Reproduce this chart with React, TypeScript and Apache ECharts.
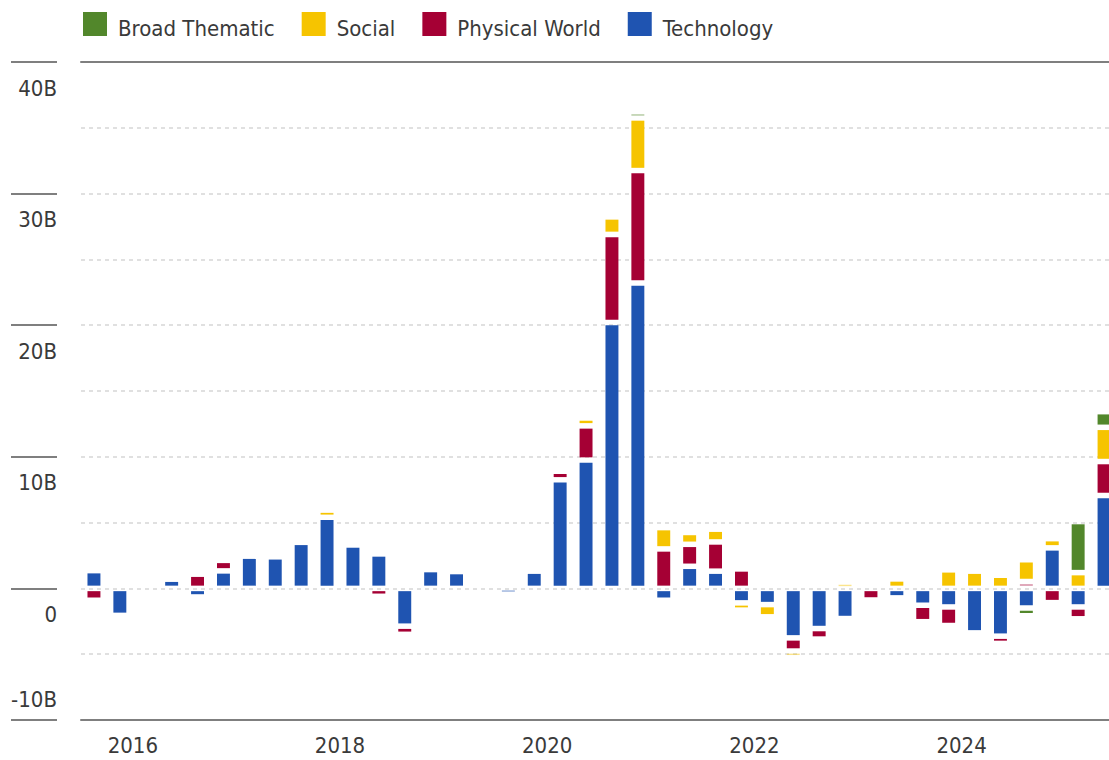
import React, { useEffect, useRef } from "react";
import * as echarts from "echarts";

// Quarterly flows (USD billions), 2015 Q3 .. 2025 Q2
const quarters = [
  "2015 Q3", "2015 Q4",
  "2016 Q1", "2016 Q2", "2016 Q3", "2016 Q4",
  "2017 Q1", "2017 Q2", "2017 Q3", "2017 Q4",
  "2018 Q1", "2018 Q2", "2018 Q3", "2018 Q4",
  "2019 Q1", "2019 Q2", "2019 Q3", "2019 Q4",
  "2020 Q1", "2020 Q2", "2020 Q3", "2020 Q4",
  "2021 Q1", "2021 Q2", "2021 Q3", "2021 Q4",
  "2022 Q1", "2022 Q2", "2022 Q3", "2022 Q4",
  "2023 Q1", "2023 Q2", "2023 Q3", "2023 Q4",
  "2024 Q1", "2024 Q2", "2024 Q3", "2024 Q4",
  "2025 Q1", "2025 Q2",
];

const technology = [
  1.35, -2.05,
  0, 0.7, -0.65, 1.33,
  2.45, 2.4, 3.5, 5.4,
  3.3, 2.62, -2.87, 1.43,
  1.28, 0, -0.4, 1.31,
  8.25, 9.75, 20.2, 23.2,
  -0.9, 1.68, 1.31, -1.1,
  -1.23, -3.76, -3.05, -2.29,
  0, -0.72, -1.28, -1.41,
  -3.38, -3.63, -1.48, 3.08,
  -1.41, 7.06,
];

const physicalWorld = [
  -0.9, 0,
  0, 0, 1.08, 0.8,
  0, 0, 0, 0,
  0, -0.6, -0.62, 0,
  0, 0, 0, 0,
  0.65, 2.6, 6.7, 8.55,
  3.0, 1.67, 2.22, 1.48,
  0, -1.0, -0.8, 0,
  -0.88, 0, -1.25, -1.41,
  0, -0.55, 0.52, -1.08,
  -0.9, 2.58,
];

const social = [
  0, 0,
  0, 0, 0, 0,
  0, 0, 0, 0.55,
  0, 0, 0, 0,
  0, 0, 0, 0,
  0, 0.6, 1.33, 4.0,
  1.62, 0.9, 0.97, -0.55,
  -0.93, -0.5, 0, 0.45,
  0, 0.72, 0, 1.41,
  1.31, 1.0, 1.66, 0.7,
  1.2, 2.6,
];

const broadThematic = [
  0, 0,
  0, 0, 0, 0,
  0, 0, 0, 0,
  0, 0, 0, 0,
  0, 0, 0, 0,
  0, 0, 0, 0.45,
  0, 0, 0, 0,
  0, 0, 0, 0,
  0, 0, 0, 0,
  0, 0, -0.6, 0,
  3.88, 1.19,
];

const yearTicks = [2016, 2018, 2020, 2022, 2024];
const legendNames = ["Broad Thematic", "Social", "Physical World", "Technology"];

const COLORS: Record<string, string> = {
  Technology: "#1f54b1",
  "Physical World": "#a50034",
  Social: "#f6c400",
  "Broad Thematic": "#52872b",
};

const FONT = "'DejaVu Sans Condensed', 'Liberation Sans Narrow', sans-serif";
const TEXT = "#3a3a3a";
const LINE = "#7f7f7f";
const GRID_LINE = "#d6d6d6";

// x position = middle of each quarter, in fractional years
const xPos = quarters.map((q) => {
  const [y, qq] = q.split(" Q");
  return Number(y) + (Number(qq) - 0.5) / 4;
});

const stackOrder: [string, number[]][] = [
  ["Technology", technology],
  ["Physical World", physicalWorld],
  ["Social", social],
  ["Broad Thematic", broadThematic],
];

function buildStacks() {
  const pos = quarters.map(() => 0);
  const neg = quarters.map(() => 0);
  return stackOrder.map(([name, arr]) => {
    const data = arr.map((v, i) => {
      if (v >= 0) {
        const s = pos[i];
        pos[i] += v;
        return [xPos[i], s, pos[i], v];
      }
      const s = neg[i];
      neg[i] += v;
      return [xPos[i], s, neg[i], v];
    });
    return { name, data };
  });
}

export default function App() {
  const ref = useRef<HTMLDivElement>(null);

  useEffect(() => {
    if (!ref.current) return;
    const chart = echarts.init(ref.current, undefined, { renderer: "svg" });
    const INSET = 2.75;

    const stacks = buildStacks();
    const series = stacks.map(({ name, data }) => {
      const color = COLORS[name];
      return {
        type: "custom",
        name,
        color,
        itemStyle: { color },
        encode: { x: 0, y: [1, 2] },
        data,
        renderItem: (params: any, api: any) => {
          const v = api.value(3);
          if (!v) return null;
          const x = api.value(0);
          const a = api.coord([x, api.value(1)]);
          const b = api.coord([x, api.value(2)]);
          const w = api.size([0.25, 0])[0] * 0.5;
          let top = Math.min(a[1], b[1]) + INSET;
          let bot = Math.max(a[1], b[1]) - INSET;
          let opacity = 1;
          if (bot - top < 1.4) {
            const m = (top + bot) / 2;
            top = m - 0.7;
            bot = m + 0.7;
            opacity = 0.45;
          }
          return {
            type: "rect",
            shape: { x: a[0] - w / 2, y: top, width: w, height: bot - top },
            style: { fill: color, opacity },
          };
        },
      };
    });

    const xMin = 2015.5;
    const xMax = 2015.5 + (1109 - 81) / 103.6;

    chart.setOption({
      animation: false,
      textStyle: { fontFamily: FONT },
      legend: {
        top: 12,
        left: 83,
        padding: 0,
        itemWidth: 24,
        itemHeight: 24,
        itemGap: 27,
        selectedMode: false,
        formatter: "{t|{name}}",
        textStyle: {
          fontSize: 22,
          color: TEXT,
          fontFamily: FONT,
          rich: {
            t: { fontSize: 22, color: TEXT, fontFamily: FONT, padding: [8, 0, 0, 6] },
          },
        },
        data: legendNames.map((n) => ({ name: n, icon: "rect" })),
      },
      grid: { left: 81, right: 0, top: 62, bottom: 40, containLabel: false, outerBoundsMode: "none" },
      xAxis: [
        {
          type: "value",
          min: xMin,
          max: xMax,
          interval: 0.5,
          axisLine: { show: true, onZero: false, lineStyle: { color: LINE, width: 2 } },
          axisTick: { show: false },
          splitLine: { show: false },
          axisLabel: {
            margin: 14,
            fontSize: 22,
            color: TEXT,
            fontFamily: FONT,
            formatter: (v: number) => (yearTicks.includes(v) ? String(v) : ""),
          },
        },
        {
          type: "value",
          position: "top",
          min: xMin,
          max: xMax,
          interval: 0.5,
          axisLine: { show: true, onZero: false, lineStyle: { color: LINE, width: 2 } },
          axisTick: { show: false },
          axisLabel: { show: false },
          splitLine: { show: false },
        },
      ],
      yAxis: [
        {
          type: "value",
          position: "left",
          min: -10,
          max: 40,
          interval: 10,
          offset: 24,
          axisLine: { show: false },
          axisTick: { show: true, length: 46, lineStyle: { color: LINE, width: 2 } },
          axisLabel: {
            margin: 0,
            fontSize: 22,
            color: TEXT,
            fontFamily: FONT,
            verticalAlign: "top",
            lineHeight: 26,
            padding: [13, 0, 0, 0],
            formatter: (v: number) => (v === -10 ? "" : v === 0 ? "0" : `${v}B`),
          },
          splitLine: { show: true, lineStyle: { color: GRID_LINE, width: 1.5, type: [4, 4] } },
          minorTick: { show: false, splitNumber: 2 },
          minorSplitLine: { show: true, lineStyle: { color: GRID_LINE, width: 1.5, type: [4, 4] } },
        },
        {
          type: "value",
          position: "left",
          min: -10,
          max: 40,
          interval: 10,
          offset: 24,
          axisLine: { show: false },
          axisTick: { show: false },
          splitLine: { show: false },
          axisLabel: {
            margin: 0,
            fontSize: 22,
            color: TEXT,
            fontFamily: FONT,
            verticalAlign: "bottom",
            lineHeight: 26,
            padding: [0, 0, 8, 0],
            formatter: (v: number) => (v === -10 ? `${v}B` : ""),
          },
        },
      ],
      series,
    });

    return () => chart.dispose();
  }, []);

  return (
    <div
      ref={ref}
      style={{ position: "absolute", left: 0, top: 0, width: 1109, height: 760 }}
    />
  );
}
